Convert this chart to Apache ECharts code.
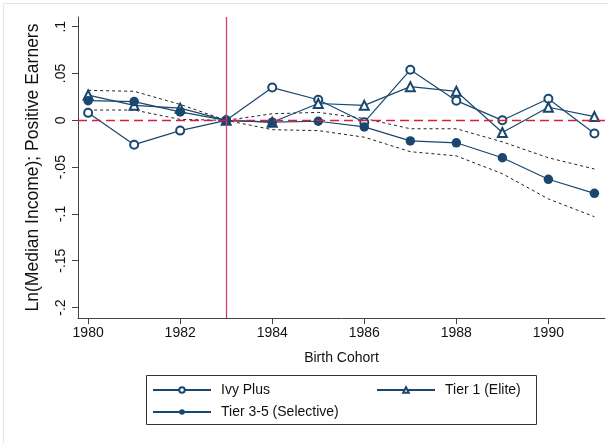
<!DOCTYPE html>
<html>
<head>
<meta charset="utf-8">
<script src="https://cdn.jsdelivr.net/npm/echarts@6/dist/echarts.min.js"></script>
<style>
  html, body { margin: 0; padding: 0; background: #fff; }
  #chart { width: 608px; height: 443px; }
</style>
</head>
<body>
<div id="chart"></div>
<script>
// Birth cohorts on the x axis
const cohorts = [1980, 1981, 1982, 1983, 1984, 1985, 1986, 1987, 1988, 1989, 1990, 1991];

// Ln(median income) relative to the 1983 cohort, by college tier
const ivyPlus   = [0.008, -0.026, -0.011, 0, 0.035, 0.022, -0.002, 0.054, 0.021, 0.000, 0.023, -0.014];
const tier1     = [0.027, 0.016, 0.013, 0, -0.002, 0.018, 0.016, 0.036, 0.031, -0.013, 0.014, 0.004];
const tier35    = [0.021, 0.020, 0.009, 0, -0.002, -0.001, -0.007, -0.022, -0.024, -0.040, -0.063, -0.078];

// 95% confidence band for the Tier 3-5 estimates
const tier35Upper = [0.032, 0.031, 0.017, 0, 0.007, 0.0085, 0.002, -0.009, -0.009, -0.023, -0.040, -0.052];
const tier35Lower = [0.011, 0.011, 0.001, 0, -0.010, -0.011, -0.018, -0.0335, -0.038, -0.057, -0.084, -0.103];

// Axis ticks
const xTicks = [1980, 1982, 1984, 1986, 1988, 1990];
const yTicks = [-0.2, -0.15, -0.1, -0.05, 0, 0.05, 0.1];
const yTickLabels = { '-0.2': '-.2', '-0.15': '-.15', '-0.1': '-.1', '-0.05': '-.05', '0': '0', '0.05': '.05', '0.1': '.1' };

const baseCohort = 1983;

const NAVY = '#1a476f';
const FONT = 'Liberation Sans, Arial, Helvetica, sans-serif';

const pairs = (ys) => cohorts.map((c, i) => [c, ys[i]]);

const chart = echarts.init(document.getElementById('chart'), null, { renderer: 'canvas' });

const ciStyle = { color: '#222', width: 1, type: [3, 3] };

const legendCommon = {
  orient: 'horizontal',
  padding: 0,
  itemWidth: 58,
  itemHeight: 7,
  itemGap: 10,
  textStyle: { fontFamily: FONT, fontSize: 14, color: '#111', padding: [0, 0, 0, 5] },
  selectedMode: false
};

chart.setOption({
  animation: false,
  backgroundColor: '#fff',
  grid: { left: 78, right: 3, top: 17, bottom: 125, containLabel: false },
  xAxis: {
    type: 'value',
    min: 1979.78,
    max: 1991.23,
    name: 'Birth Cohort',
    nameLocation: 'middle',
    nameGap: 33,
    nameTextStyle: { fontFamily: FONT, fontSize: 14, color: '#111' },
    splitLine: { show: false },
    axisLine: { show: true, onZero: false, lineStyle: { color: '#444', width: 1 } },
    axisTick: { show: true, length: 6, lineStyle: { color: '#444' }, customValues: xTicks },
    axisLabel: { fontFamily: FONT, fontSize: 14, color: '#111', margin: 8, customValues: xTicks,
                 formatter: (v) => String(v) }
  },
  yAxis: {
    type: 'value',
    min: -0.2112,
    max: 0.1104,
    name: 'Ln(Median Income); Positive Earners',
    nameLocation: 'middle',
    nameRotate: 90,
    nameGap: 36,
    nameTextStyle: { fontFamily: FONT, fontSize: 17.5, color: '#111' },
    splitLine: { show: false },
    axisLine: { show: true, lineStyle: { color: '#444', width: 1 } },
    axisTick: { show: true, length: 6, lineStyle: { color: '#444' }, customValues: yTicks },
    axisLabel: {
      fontFamily: FONT, fontSize: 14, color: '#111', rotate: 90, margin: 10,
      customValues: yTicks,
      formatter: (v) => yTickLabels[String(Math.round(v * 100) / 100)] ?? String(v)
    }
  },
  legend: [
    Object.assign({ left: 152, top: 383, data: ['Ivy Plus'] }, legendCommon),
    Object.assign({ left: 376, top: 383, data: ['Tier 1 (Elite)'] }, legendCommon),
    Object.assign({ left: 152, top: 405, data: ['Tier 3-5 (Selective)'] }, legendCommon)
  ],
  graphic: [
    { type: 'rect', shape: { x: 146.5, y: 375.5, width: 390, height: 49 },
      style: { fill: 'none', stroke: '#333', lineWidth: 1 }, silent: true },
    { type: 'polyline', shape: { points: [[3.5, 443], [3.5, 3.5], [608, 3.5]] },
      style: { fill: 'none', stroke: '#e6e6e6', lineWidth: 1 }, silent: true }
  ],
  series: [
    {
      name: 'upper', type: 'line', data: pairs(tier35Upper), showSymbol: false, symbol: 'none',
      lineStyle: ciStyle, z: 2, silent: true,
      markLine: {
        silent: true, symbol: 'none', label: { show: false },
        data: [
          { xAxis: baseCohort, lineStyle: { color: '#cf4468', width: 1.3, type: 'solid' } },
          { yAxis: 0, lineStyle: { color: '#d3203f', width: 1.3, type: [9, 5] } }
        ]
      }
    },
    { name: 'lower', type: 'line', data: pairs(tier35Lower), showSymbol: false, symbol: 'none',
      lineStyle: ciStyle, z: 2, silent: true },
    {
      name: 'Ivy Plus', type: 'line', data: pairs(ivyPlus),
      symbol: 'emptyCircle', symbolSize: 8, z: 4,
      lineStyle: { color: NAVY, width: 1.2 },
      itemStyle: { color: NAVY, borderColor: NAVY, borderWidth: 1.1 }
    },
    {
      name: 'Tier 1 (Elite)', type: 'line', data: pairs(tier1),
      symbol: 'emptyTriangle', symbolSize: 9, z: 4,
      lineStyle: { color: NAVY, width: 1.2 },
      itemStyle: { color: NAVY, borderColor: NAVY, borderWidth: 1.1 }
    },
    {
      name: 'Tier 3-5 (Selective)', type: 'line', data: pairs(tier35),
      symbol: 'circle', symbolSize: 9.5, z: 4,
      lineStyle: { color: NAVY, width: 1.2 },
      itemStyle: { color: NAVY }
    }
  ]
});
</script>
</body>
</html>
